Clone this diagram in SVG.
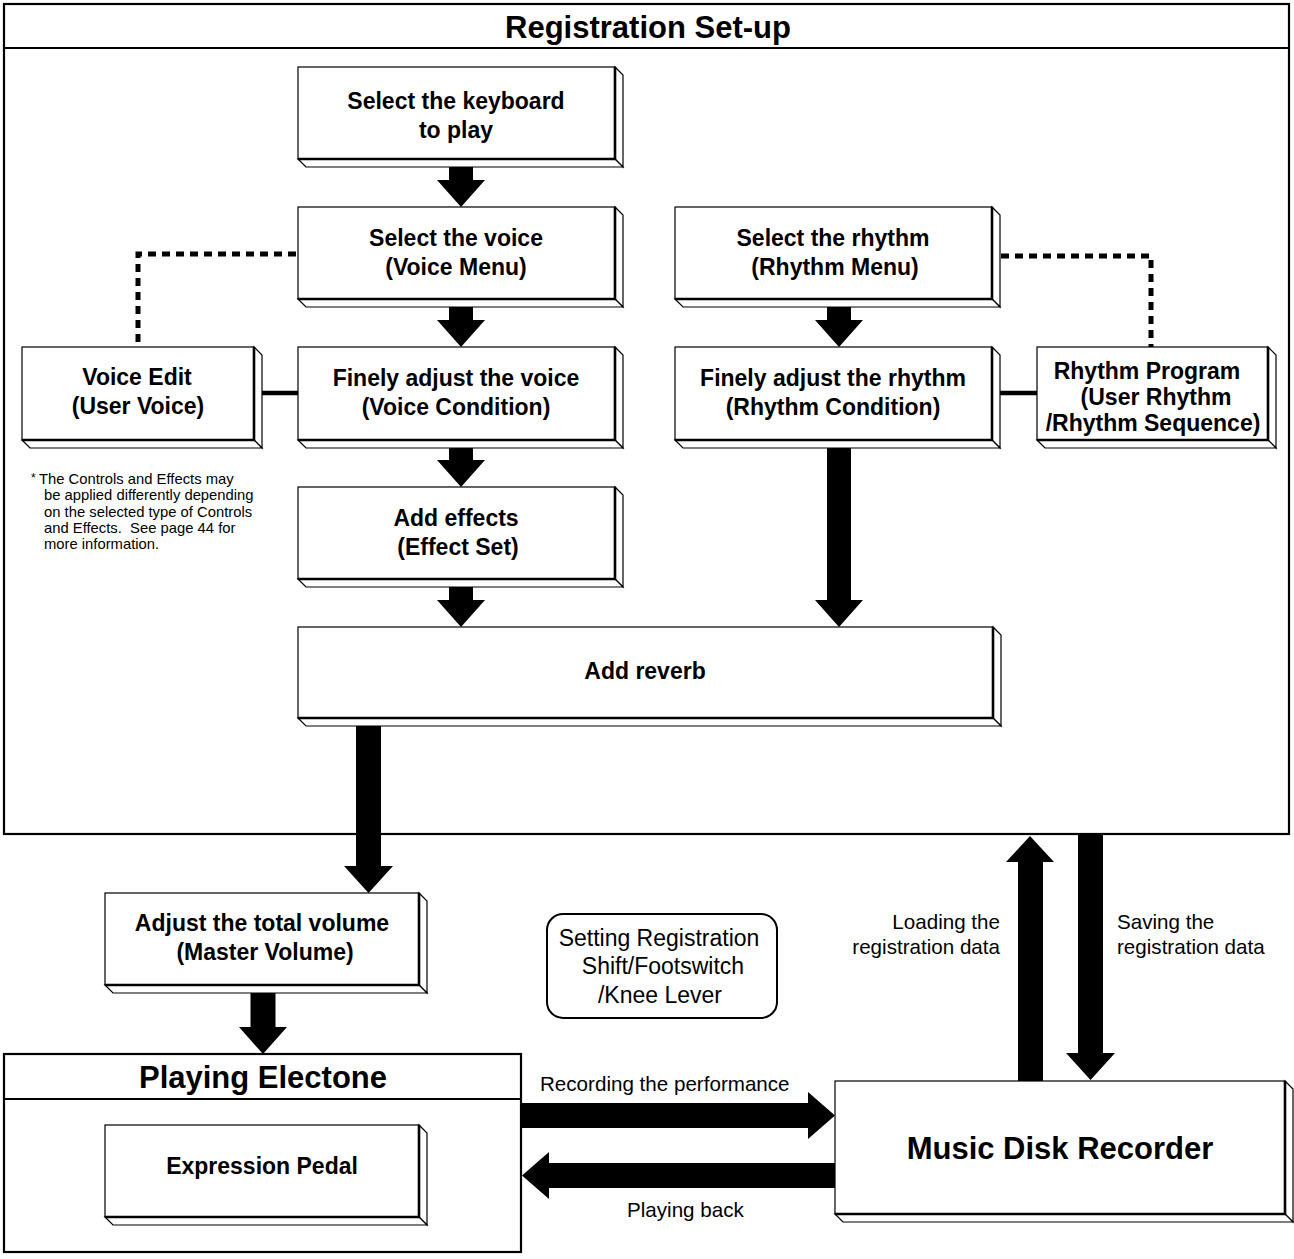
<svg xmlns="http://www.w3.org/2000/svg" width="1294" height="1259" viewBox="0 0 1294 1259">
<style>
  .frame { fill: none; stroke: #000; stroke-width: 2.2; }
  .face { fill: #fff; stroke: #000; stroke-width: 1.2; stroke-linejoin: miter; }
  .front { fill: #fff; stroke: #000; stroke-width: 1.2; }
  .edge { fill: none; stroke: #000; stroke-width: 2.6; }
  .lbl { font-family: "Liberation Sans", Arial, sans-serif; font-weight: bold; font-size: 23px; fill: #000; text-anchor: middle; }
  .big { font-family: "Liberation Sans", Arial, sans-serif; font-weight: bold; font-size: 31px; fill: #000; text-anchor: middle; }
  .txt { font-family: "Liberation Sans", Arial, sans-serif; font-size: 20.6px; fill: #000; }
  .note { font-family: "Liberation Sans", Arial, sans-serif; font-size: 14.8px; fill: #000; }
  .arrow { fill: #000; stroke: none; }
  .solid { stroke: #000; stroke-width: 4.5; fill: none; }
  .dash { stroke: #000; stroke-width: 5; fill: none; stroke-dasharray: 8 6; }
</style>

<!-- Registration Set-up frame -->
<g id="registration-setup">
  <rect class="frame" x="4" y="4" width="1285" height="830"/>
  <line class="frame" x1="4" y1="48" x2="1289" y2="48"/>
  <text class="big" x="648" y="38">Registration Set-up</text>
</g>

<!-- Playing Electone frame -->
<g id="playing-electone">
  <rect class="frame" x="4" y="1054" width="517" height="198"/>
  <line class="frame" x1="4" y1="1099" x2="521" y2="1099"/>
  <text class="big" x="263" y="1088">Playing Electone</text>
</g>

<g id="node-keyboard">
  <path class="face" d="M615,67 L623,75 L623,167 L615,159 Z"/>
  <path class="face" d="M298,159 L615,159 L623,167 L306,167 Z"/>
  <rect class="front" x="298" y="67" width="317" height="92"/>
  <path class="edge" d="M615,67 L615,159 L298,159"/>
  <text class="lbl" x="456" y="109">Select the keyboard</text>
  <text class="lbl" x="456" y="138">to play</text>
</g>

<g id="node-voice">
  <path class="face" d="M615,207 L623,215 L623,307 L615,299 Z"/>
  <path class="face" d="M298,299 L615,299 L623,307 L306,307 Z"/>
  <rect class="front" x="298" y="207" width="317" height="92"/>
  <path class="edge" d="M615,207 L615,299 L298,299"/>
  <text class="lbl" x="456" y="246">Select the voice</text>
  <text class="lbl" x="456" y="275">(Voice Menu)</text>
</g>

<g id="node-voice-condition">
  <path class="face" d="M615,347 L623,355 L623,448 L615,440 Z"/>
  <path class="face" d="M298,440 L615,440 L623,448 L306,448 Z"/>
  <rect class="front" x="298" y="347" width="317" height="93"/>
  <path class="edge" d="M615,347 L615,440 L298,440"/>
  <text class="lbl" x="456" y="386">Finely adjust the voice</text>
  <text class="lbl" x="456" y="415">(Voice Condition)</text>
</g>

<g id="node-effects">
  <path class="face" d="M615,487 L623,495 L623,587 L615,579 Z"/>
  <path class="face" d="M298,579 L615,579 L623,587 L306,587 Z"/>
  <rect class="front" x="298" y="487" width="317" height="92"/>
  <path class="edge" d="M615,487 L615,579 L298,579"/>
  <text class="lbl" x="456" y="526">Add effects</text>
  <text class="lbl" x="458" y="555">(Effect Set)</text>
</g>

<g id="node-reverb">
  <path class="face" d="M993,627 L1001,635 L1001,726 L993,718 Z"/>
  <path class="face" d="M298,718 L993,718 L1001,726 L306,726 Z"/>
  <rect class="front" x="298" y="627" width="695" height="91"/>
  <path class="edge" d="M993,627 L993,718 L298,718"/>
  <text class="lbl" x="645" y="679">Add reverb</text>
</g>

<g id="node-voice-edit">
  <path class="face" d="M254,347 L262,355 L262,448 L254,440 Z"/>
  <path class="face" d="M22,440 L254,440 L262,448 L30,448 Z"/>
  <rect class="front" x="22" y="347" width="232" height="93"/>
  <path class="edge" d="M254,347 L254,440 L22,440"/>
  <text class="lbl" x="137" y="385">Voice Edit</text>
  <text class="lbl" x="138" y="414">(User Voice)</text>
</g>

<g id="node-rhythm">
  <path class="face" d="M992,207 L1000,215 L1000,307 L992,299 Z"/>
  <path class="face" d="M675,299 L992,299 L1000,307 L683,307 Z"/>
  <rect class="front" x="675" y="207" width="317" height="92"/>
  <path class="edge" d="M992,207 L992,299 L675,299"/>
  <text class="lbl" x="833" y="246">Select the rhythm</text>
  <text class="lbl" x="835" y="275">(Rhythm Menu)</text>
</g>

<g id="node-rhythm-condition">
  <path class="face" d="M992,347 L1000,355 L1000,448 L992,440 Z"/>
  <path class="face" d="M675,440 L992,440 L1000,448 L683,448 Z"/>
  <rect class="front" x="675" y="347" width="317" height="93"/>
  <path class="edge" d="M992,347 L992,440 L675,440"/>
  <text class="lbl" x="833" y="386">Finely adjust the rhythm</text>
  <text class="lbl" x="833" y="415">(Rhythm Condition)</text>
</g>

<g id="node-rhythm-program">
  <path class="face" d="M1268,347 L1276,355 L1276,448 L1268,440 Z"/>
  <path class="face" d="M1037,440 L1268,440 L1276,448 L1045,448 Z"/>
  <rect class="front" x="1037" y="347" width="231" height="93"/>
  <path class="edge" d="M1268,347 L1268,440 L1037,440"/>
  <text class="lbl" x="1147" y="379">Rhythm Program</text>
  <text class="lbl" x="1156" y="405">(User Rhythm</text>
  <text class="lbl" x="1153" y="431">/Rhythm Sequence)</text>
</g>

<g id="footnote">
  <text class="note" x="31" y="482" style="font-size:12px">*</text>
  <text class="note" x="39" y="484">The Controls and Effects may</text>
  <text class="note" x="44" y="500">be applied differently depending</text>
  <text class="note" x="44" y="517">on the selected type of Controls</text>
  <text class="note" x="44" y="533">and Effects.&#160; See page 44 for</text>
  <text class="note" x="44" y="549">more information.</text>
</g>

<g id="node-master-volume">
  <path class="face" d="M419,893 L427,901 L427,993 L419,985 Z"/>
  <path class="face" d="M105,985 L419,985 L427,993 L113,993 Z"/>
  <rect class="front" x="105" y="893" width="314" height="92"/>
  <path class="edge" d="M419,893 L419,985 L105,985"/>
  <text class="lbl" x="262" y="931">Adjust the total volume</text>
  <text class="lbl" x="265" y="960">(Master Volume)</text>
</g>

<g id="node-expression-pedal">
  <path class="face" d="M419,1125 L427,1133 L427,1225 L419,1217 Z"/>
  <path class="face" d="M105,1217 L419,1217 L427,1225 L113,1225 Z"/>
  <rect class="front" x="105" y="1125" width="314" height="92"/>
  <path class="edge" d="M419,1125 L419,1217 L105,1217"/>
  <text class="lbl" x="262" y="1174">Expression Pedal</text>
</g>

<g id="node-music-disk-recorder">
  <path class="face" d="M1285,1081 L1293,1089 L1293,1222 L1285,1214 Z"/>
  <path class="face" d="M835,1214 L1285,1214 L1293,1222 L843,1222 Z"/>
  <rect class="front" x="835" y="1081" width="450" height="133"/>
  <path class="edge" d="M1285,1081 L1285,1214 L835,1214"/>
  <text class="big" x="1060" y="1159">Music Disk Recorder</text>
</g>

<g id="node-registration-shift">
  <rect x="547" y="914" width="230" height="104" rx="16" ry="16" fill="#fff" stroke="#000" stroke-width="2"/>
  <text class="txt" style="font-size:23px" text-anchor="middle" x="659" y="946">Setting Registration</text>
  <text class="txt" style="font-size:23px" text-anchor="middle" x="663" y="974">Shift/Footswitch</text>
  <text class="txt" style="font-size:23px" text-anchor="middle" x="660" y="1003">/Knee Lever</text>
</g>

<g id="connectors">
  <!-- column 1 -->
  <polygon class="arrow" points="449,167 473,167 473,180 485,180 461,207 437,180 449,180"/>
  <polygon class="arrow" points="449,307 473,307 473,320 485,320 461,347 437,320 449,320"/>
  <polygon class="arrow" points="449,448 473,448 473,460 485,460 461,487 437,460 449,460"/>
  <polygon class="arrow" points="449,587 473,587 473,600 485,600 461,627 437,600 449,600"/>
  <!-- column 2 -->
  <polygon class="arrow" points="827,307 851,307 851,320 863,320 839,347 815,320 827,320"/>
  <polygon class="arrow" points="827,448 851,448 851,600 863,600 839,627 815,600 827,600"/>
  <!-- reverb to master volume -->
  <polygon class="arrow" points="356,726 381,726 381,866 393,866 368.5,893 344,866 356,866"/>
  <!-- master volume to playing electone -->
  <polygon class="arrow" points="250.5,993 275.5,993 275.5,1027 287,1027 263,1054 239,1027 250.5,1027"/>
  <!-- loading (up) -->
  <polygon class="arrow" points="1018,1081 1043,1081 1043,862 1054,862 1030,836 1006,862 1018,862"/>
  <!-- saving (down) -->
  <polygon class="arrow" points="1078,835 1103,835 1103,1053 1115,1053 1090.5,1080 1066,1053 1078,1053"/>
  <!-- recording (right) -->
  <polygon class="arrow" points="522,1103 808,1103 808,1092 835,1115.5 808,1139 808,1128 522,1128"/>
  <!-- playing back (left) -->
  <polygon class="arrow" points="835,1163 549,1163 549,1152 522,1175.5 549,1199 549,1188 835,1188"/>
  <!-- side links -->
  <line class="solid" x1="262" y1="393" x2="298" y2="393"/>
  <line class="solid" x1="1000" y1="393" x2="1037" y2="393"/>
  <path class="dash" d="M296,254 L138,254 L138,347"/>
  <path class="dash" d="M1001,256 L1151,256 L1151,347"/>
  <!-- labels -->
  <text class="txt" text-anchor="end" x="1000" y="929">Loading the</text>
  <text class="txt" text-anchor="end" x="1000" y="954">registration data</text>
  <text class="txt" x="1117" y="929">Saving the</text>
  <text class="txt" x="1117" y="954">registration data</text>
  <text class="txt" x="540" y="1091">Recording the performance</text>
  <text class="txt" x="627" y="1217">Playing back</text>
</g>
</svg>
